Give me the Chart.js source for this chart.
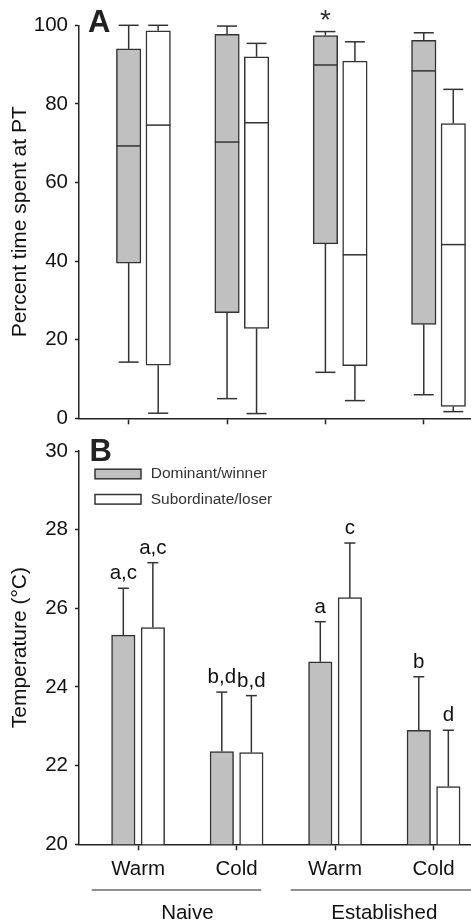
<!DOCTYPE html>
<html>
<head>
<meta charset="utf-8">
<script src="https://cdn.jsdelivr.net/npm/chart.js@4.4.1/dist/chart.umd.min.js"></script>
<style>
  html, body { margin: 0; padding: 0; background: #fff; }
  #wrap { position: relative; width: 471px; height: 922px; }
  canvas { position: absolute; left: 0; }
  #chartA { top: 0; }
  #chartB { top: 430px; }
</style>
</head>
<body>
<div id="wrap">
  <canvas id="chartA" width="471" height="440"></canvas>
  <canvas id="chartB" width="471" height="492"></canvas>
</div>
<script>
const treatments = ['Warm', 'Cold', 'Warm', 'Cold'];
const conditions = ['Naive', 'Established'];
const seriesNames = ['Dominant/winner', 'Subordinate/loser'];

// Panel A - percent time spent at PT (box plots)
const domMin = [14.3, 5.0, 11.7, 6.0];
const domQ1 = [39.5, 26.9, 44.4, 23.9];
const domMed = [69.3, 70.3, 89.9, 88.4];
const domQ3 = [94.0, 97.7, 97.4, 96.2];
const domMax = [100, 99.8, 98.4, 98.1];
const subMin = [1.3, 1.2, 4.5, 1.7];
const subQ1 = [13.5, 22.9, 13.4, 3.0];
const subMed = [74.6, 75.2, 41.6, 44.2];
const subQ3 = [98.6, 92.0, 90.9, 75.0];
const subMax = [100, 95.4, 95.8, 83.7];
const domStars = ['', '', '*', ''];
const ticksA = [0, 20, 40, 60, 80, 100];

// Panel B - temperature (mean + SE)
const domMean = [25.32, 22.36, 24.64, 22.90];
const domErr = [1.19, 1.51, 1.02, 1.36];
const subMean = [25.51, 22.33, 26.27, 21.47];
const subErr = [1.65, 1.45, 1.39, 1.43];
const domLetters = ['a,c', 'b,d', 'a', 'b'];
const subLetters = ['a,c', 'b,d', 'c', 'd'];
const ticksB = [20, 22, 24, 26, 28, 30];

const FONT = "'Liberation Sans', Arial, sans-serif";
const LINE = '#222';
const GREY = '#c0c0c0';
const TEXT = '#111';

const line = (ctx, x1, y1, x2, y2) => {
  ctx.beginPath();
  ctx.moveTo(x1, y1);
  ctx.lineTo(x2, y2);
  ctx.stroke();
};

const boxWhiskers = {
  id: 'boxWhiskers',
  afterDatasetsDraw(chart) {
    const { ctx } = chart;
    const y = chart.scales.y;
    ctx.save();
    ctx.strokeStyle = '#333';
    ctx.lineWidth = 1.5;
    chart.data.datasets.forEach((ds, d) => {
      chart.getDatasetMeta(d).data.forEach((bar, i) => {
        const x = bar.x, half = bar.width / 2;
        const [q1, q3] = ds.data[i].y;
        const top = y.getPixelForValue(ds.hi[i]);
        const bot = y.getPixelForValue(ds.lo[i]);
        line(ctx, x, y.getPixelForValue(q3), x, top);
        line(ctx, x - 10, top, x + 10, top);
        line(ctx, x, y.getPixelForValue(q1), x, bot);
        line(ctx, x - 10, bot, x + 10, bot);
        const m = y.getPixelForValue(ds.med[i]);
        line(ctx, x - half, m, x + half, m);
        if (ds.stars && ds.stars[i]) {
          ctx.fillStyle = '#333';
          ctx.font = '28px ' + FONT;
          ctx.textAlign = 'center';
          ctx.textBaseline = 'alphabetic';
          ctx.fillText(ds.stars[i], x, top - 3);
        }
      });
    });
    ctx.fillStyle = '#222';
    ctx.font = 'bold 31px ' + FONT;
    ctx.textAlign = 'left';
    ctx.textBaseline = 'alphabetic';
    ctx.fillText('A', 88, 32.3);
    ctx.restore();
  }
};

const errorBars = {
  id: 'errorBars',
  afterDatasetsDraw(chart) {
    const { ctx } = chart;
    const y = chart.scales.y;
    ctx.save();
    ctx.strokeStyle = '#333';
    ctx.lineWidth = 1.5;
    chart.data.datasets.forEach((ds, d) => {
      chart.getDatasetMeta(d).data.forEach((bar, i) => {
        const x = bar.x;
        const top = y.getPixelForValue(ds.data[i].y + ds.err[i]);
        line(ctx, x, bar.y, x, top);
        line(ctx, x - 5.5, top, x + 5.5, top);
        ctx.fillStyle = TEXT;
        ctx.font = '20.5px ' + FONT;
        ctx.textAlign = 'center';
        ctx.textBaseline = 'alphabetic';
        ctx.fillText(ds.letters[i], x, top - 9);
      });
    });
    // legend
    const { left, top } = chart.chartArea;
    chart.data.datasets.forEach((ds, d) => {
      const sy = top + 18.2 + d * 25.3;
      ctx.fillStyle = ds.backgroundColor;
      ctx.fillRect(left + 16, sy, 46, 9.6);
      ctx.strokeRect(left + 16, sy, 46, 9.6);
      ctx.fillStyle = '#333';
      ctx.font = '15.5px ' + FONT;
      ctx.textAlign = 'left';
      ctx.textBaseline = 'middle';
      ctx.fillText(ds.label, left + 71.7, sy + 5);
    });
    // condition groups under the axis
    const x = chart.scales.x;
    const spans = [[0.53, 2.25], [2.55, 4.4]];
    ctx.strokeStyle = LINE;
    ctx.lineWidth = 1.2;
    conditions.forEach((c, k) => {
      line(ctx, x.getPixelForValue(spans[k][0]), 460, x.getPixelForValue(spans[k][1]), 460);
      ctx.fillStyle = TEXT;
      ctx.font = '20.5px ' + FONT;
      ctx.textAlign = 'center';
      ctx.textBaseline = 'middle';
      ctx.fillText(c, x.getPixelForValue(2 * k + 1.5), 483);
    });
    ctx.fillStyle = '#222';
    ctx.font = 'bold 31px ' + FONT;
    ctx.textAlign = 'left';
    ctx.textBaseline = 'alphabetic';
    ctx.fillText('B', 89.5, 30.5);
    ctx.restore();
  }
};

const yAxis = (min, max, ticks, title) => ({
  min, max,
  afterBuildTicks: s => { s.ticks = ticks.map(v => ({ value: v })); },
  afterFit: s => { s.width = 79; },
  ticks: { padding: 7, color: TEXT, font: { family: FONT, size: 20.5 } },
  grid: { drawOnChartArea: false, tickLength: 4, tickColor: LINE, tickWidth: 1.5 },
  border: { color: LINE, width: 1.5 },
  title: { display: true, text: title, color: TEXT, font: { family: FONT, size: 21 }, padding: { top: 8, bottom: 0 } }
});

const xAxis = (min, max, height, labels) => ({
  type: 'linear', min, max, offset: false,
  afterBuildTicks: s => { s.ticks = treatments.map((_, i) => ({ value: i + 1 })); },
  afterFit: s => { s.height = height; },
  ticks: { padding: 7, color: TEXT, font: { family: FONT, size: 20.5 }, maxRotation: 0, autoSkip: false,
           callback: v => labels ? treatments[v - 1] : '' },
  grid: { offset: false, drawOnChartArea: false, tickLength: 6, tickColor: LINE, tickWidth: 1.5 },
  border: { color: LINE, width: 1.5 }
});

const boxOffset = [0, 0.3];
const barOffset = [-0.15, 0.15];

new Chart(document.getElementById('chartA'), {
  type: 'bar',
  data: {
    datasets: [
      { label: seriesNames[0], backgroundColor: GREY,
        data: treatments.map((_, i) => ({ x: i + 1 + boxOffset[0], y: [domQ1[i], domQ3[i]] })),
        lo: domMin, med: domMed, hi: domMax, stars: domStars },
      { label: seriesNames[1], backgroundColor: '#fff',
        data: treatments.map((_, i) => ({ x: i + 1 + boxOffset[1], y: [subQ1[i], subQ3[i]] })),
        lo: subMin, med: subMed, hi: subMax }
    ]
  },
  options: {
    responsive: false, animation: false,
    datasets: { bar: { grouped: false, barThickness: 24.5, borderColor: '#333', borderWidth: 1.5, borderSkipped: false } },
    layout: { padding: { top: 25.3, right: 1, bottom: 11.7, left: 0 } },
    plugins: { legend: { display: false }, tooltip: { enabled: false } },
    scales: {
      x: xAxis(0.495, 4.47, 10, false),
      y: yAxis(0, 100, ticksA, 'Percent time spent at PT')
    }
  },
  plugins: [boxWhiskers]
});

new Chart(document.getElementById('chartB'), {
  type: 'bar',
  data: {
    datasets: [
      { label: seriesNames[0], backgroundColor: GREY,
        data: treatments.map((_, i) => ({ x: i + 1 + barOffset[0], y: domMean[i] })),
        err: domErr, letters: domLetters },
      { label: seriesNames[1], backgroundColor: '#fff',
        data: treatments.map((_, i) => ({ x: i + 1 + barOffset[1], y: subMean[i] })),
        err: subErr, letters: subLetters }
    ]
  },
  options: {
    responsive: false, animation: false,
    datasets: { bar: { grouped: false, barThickness: 23.5, borderColor: '#333', borderWidth: 1.5 } },
    layout: { padding: { top: 21, right: 1, bottom: 27.7, left: 0 } },
    plugins: { legend: { display: false }, tooltip: { enabled: false } },
    scales: {
      x: xAxis(0.4, 4.37, 50, true),
      y: yAxis(20, 30, ticksB, 'Temperature (°C)')
    }
  },
  plugins: [errorBars]
});
</script>
</body>
</html>
